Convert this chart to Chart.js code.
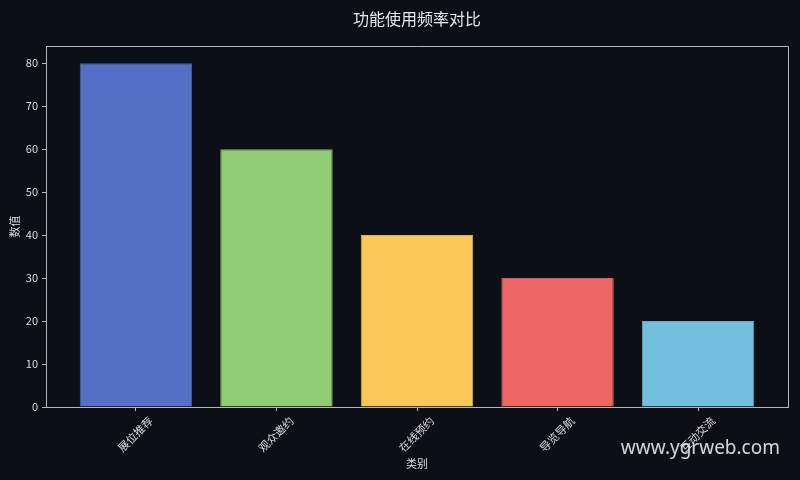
<!DOCTYPE html>
<html>
<head>
<meta charset="utf-8">
<script src="https://cdn.jsdelivr.net/npm/chart.js@4/dist/chart.umd.min.js"></script>
<style>
  html, body { margin: 0; padding: 0; background: #0c0f16; }
  #wrap { width: 800px; height: 480px; }
</style>
</head>
<body>
<div id="wrap"><canvas id="c" width="800" height="480"></canvas></div>
<script>
// chart data
const categories = ["展位推荐", "观众邀约", "在线预约", "导览导航", "互动交流"];
const values = [80, 60, 40, 30, 20];
const barColors = ["#5470c6", "#91cc75", "#fac858", "#ee6666", "#73c0de"];
const edgeColors = ["#4a62ad", "#80b566", "#dcb04c", "#d15a5a", "#65a9c3"];
const yTicks = [0, 10, 20, 30, 40, 50, 60, 70, 80];

const FONT = "'Noto Sans CJK SC', 'Noto Sans', sans-serif";
const TEXT = "#dedede";
const AXIS = "#b8b8b8";

// title, top/right frame and watermark
const decor = {
    id: "decor",
    afterDraw(chart) {
        const ctx = chart.ctx;
        const a = chart.chartArea;
        ctx.save();
        ctx.strokeStyle = AXIS;
        ctx.lineWidth = 1;
        ctx.beginPath();
        ctx.moveTo(a.left, a.top + 0.5);
        ctx.lineTo(a.right + 0.5, a.top + 0.5);
        ctx.lineTo(a.right + 0.5, a.bottom);
        ctx.stroke();
        ctx.fillStyle = "#e8e8e8";
        ctx.font = "16px " + FONT;
        ctx.textAlign = "center";
        ctx.textBaseline = "middle";
        ctx.fillText("功能使用频率对比", (a.left + a.right) / 2, 19);
        ctx.fillStyle = "rgba(235, 235, 235, 0.9)";
        ctx.font = "19px 'Noto Sans', sans-serif";
        ctx.textAlign = "right";
        ctx.fillText("www.ygrweb.com", 780, 449);
        ctx.restore();
    },
};

new Chart(document.getElementById("c").getContext("2d"), {
    type: "bar",
    data: {
        datasets: [{
            data: values.map((v, i) => ({ x: i, y: v })),
            backgroundColor: barColors,
            borderColor: edgeColors,
            borderWidth: 1,
            categoryPercentage: 0.8,
            barPercentage: 1.0,
        }],
    },
    options: {
        responsive: false,
        animation: false,
        layout: { padding: { top: 46, right: 12, left: 0, bottom: 0 } },
        plugins: { legend: { display: false }, tooltip: { enabled: false }, title: { display: false } },
        scales: {
            x: {
                type: "linear",
                min: -0.64,
                max: 4.64,
                offset: false,
                afterBuildTicks: (s) => { s.ticks = categories.map((c, i) => ({ value: i })); },
                afterFit: (s) => { s.height = 73; },
                ticks: {
                    color: TEXT,
                    font: { family: FONT, size: 11 },
                    maxRotation: 45,
                    minRotation: 45,
                    autoSkip: false,
                    padding: 3,
                    labelOffset: 15,
                    callback: (v) => categories[v],
                },
                grid: { drawOnChartArea: false, offset: false, color: AXIS, tickLength: 4 },
                border: { color: AXIS, width: 1 },
                title: { display: true, text: "类别", color: TEXT, font: { family: FONT, size: 11 }, padding: { top: 0, bottom: 10 } },
            },
            y: {
                min: 0,
                max: 84,
                afterBuildTicks: (s) => { s.ticks = yTicks.map((v) => ({ value: v })); },
                afterFit: (s) => { s.width = 46; },
                ticks: { color: TEXT, font: { family: FONT, size: 11 }, padding: 4 },
                grid: { drawOnChartArea: false, color: AXIS, tickLength: 4 },
                border: { color: AXIS, width: 1 },
                title: { display: true, text: "数值", color: TEXT, font: { family: FONT, size: 11 }, padding: { top: 8, bottom: 0 } },
            },
        },
    },
    plugins: [decor],
});
</script>
</body>
</html>
